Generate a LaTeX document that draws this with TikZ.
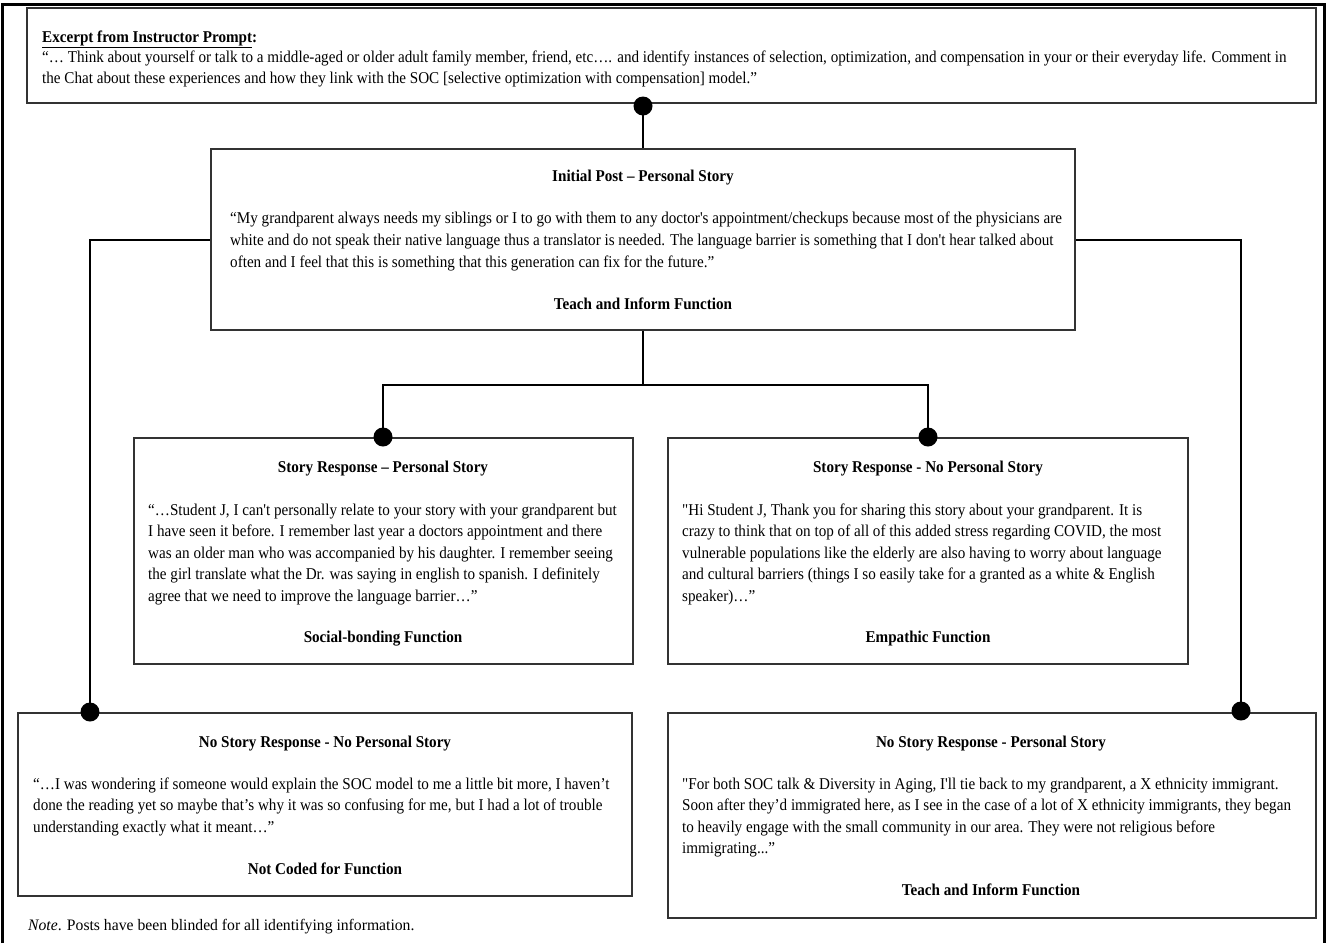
\documentclass[tikz,border=0pt]{standalone}
\usepackage{fontspec}
\setmainfont[FakeStretch=0.917]{Liberation Serif}
\newfontfamily\sqfont[FakeStretch=0.917]{Liberation Serif}
\newfontfamily\notefam[FakeStretch=0.98]{Liberation Serif}
\newcommand{\bodyfont}{\fontsize{16.5}{21}\selectfont}
\newcommand{\notefont}{\notefam\fontsize{16}{18}\selectfont}
\newcommand{\sq}{{\sqfont"}}
\newcommand{\ap}{{\sqfont'}}
\begin{document}
\begin{tikzpicture}[x=1pt,y=-1pt]
\tikzset{
 box/.style={draw=black!80, line width=2.2pt, inner sep=0pt},
 conn/.style={line width=2pt, draw=black},
 dot/.style={circle, fill=black, inner sep=0pt, minimum size=19pt},
 ttl/.style={anchor=base, inner sep=0pt, font=\bfseries\bodyfont},
 ln/.style={anchor=base west, inner sep=0pt, font=\bodyfont},
 frame/.style={line width=3pt, draw=black},
}
\useasboundingbox (0,0) rectangle (1331,943);
% outer frame
\draw[frame] (2.5,943) -- (2.5,4) -- (1324,4) -- (1324,943);

% boxes
\node[box, minimum width=1289pt, minimum height=95pt] (prompt) at (671.5,55.5) {};
\node[box, minimum width=864pt, minimum height=181pt] (init) at (643,239.5) {};
\node[box, minimum width=499pt, minimum height=226pt] (ml) at (383.5,551) {};
\node[box, minimum width=520pt, minimum height=226pt] (mr) at (928,551) {};
\node[box, minimum width=614pt, minimum height=183pt] (bl) at (325,804.5) {};
\node[box, minimum width=648pt, minimum height=205pt] (br) at (992,815.5) {};

% dots
\node[dot] (dtop) at (643,106) {};
\node[dot] (dml) at (383,437) {};
\node[dot] (dmr) at (928,437) {};
\node[dot] (dbl) at (90,712) {};
\node[dot] (dbr) at (1241,711) {};
\coordinate (jn) at (643,385);

% connectors
\draw[conn] (dtop.center) -- (init.north);
\draw[conn] (init.west) -| (dbl.center);
\draw[conn] (init.east) -| (dbr.center);
\draw[conn] (init.south) -- (jn);
\draw[conn] (jn) -| (dml.center);
\draw[conn] (jn) -| (dmr.center);

% prompt text
\node[ln] (p0) at (42,42) {\textbf{\underline{Excerpt from Instructor Prompt}:}};
\node[ln] (p1) at (42,62) {“… Think about yourself or talk to a middle-aged or older adult family member, friend, etc…. and identify instances of selection, optimization, and compensation in your or their everyday life. Comment in};
\node[ln] (p2) at (42,83) {the Chat about these experiences and how they link with the SOC [selective optimization with compensation] model.”};

% initial post
\node[ttl] (it) at (643,181) {Initial Post – Personal Story};
\node[ln] (i1) at (230,223) {“My grandparent always needs my siblings or I to go with them to any doctor\ap s appointment/checkups because most of the physicians are};
\node[ln] (i2) at (230,245) {white and do not speak their native language thus a translator is needed. The language barrier is something that I don\ap t hear talked about};
\node[ln] (i3) at (230,267) {often and I feel that this is something that this generation can fix for the future.”};
\node[ttl] (if) at (643,309) {Teach and Inform Function};

% middle left
\node[ttl] (mlt) at (383,472) {Story Response – Personal Story};
\node[ln] (ml1) at (148,515) {“…Student J, I can\ap t personally relate to your story with your grandparent but};
\node[ln] (ml2) at (148,536) {I have seen it before. I remember last year a doctors appointment and there};
\node[ln] (ml3) at (148,558) {was an older man who was accompanied by his daughter. I remember seeing};
\node[ln] (ml4) at (148,579) {the girl translate what the Dr. was saying in english to spanish. I definitely};
\node[ln] (ml5) at (148,601) {agree that we need to improve the language barrier…”};
\node[ttl] (mlf) at (383,642) {Social-bonding Function};

% middle right
\node[ttl] (mrt) at (928,472) {Story Response - No Personal Story};
\node[ln] (mr1) at (682,515) {\sq Hi Student J, Thank you for sharing this story about your grandparent. It is};
\node[ln] (mr2) at (682,536) {crazy to think that on top of all of this added stress regarding COVID, the most};
\node[ln] (mr3) at (682,558) {vulnerable populations like the elderly are also having to worry about language};
\node[ln] (mr4) at (682,579) {and cultural barriers (things I so easily take for a granted as a white \& English};
\node[ln] (mr5) at (682,601) {speaker)…”};
\node[ttl] (mrf) at (928,642) {Empathic Function};

% bottom left
\node[ttl] (blt) at (325,747) {No Story Response - No Personal Story};
\node[ln] (bl1) at (33,789) {“…I was wondering if someone would explain the SOC model to me a little bit more, I haven’t};
\node[ln] (bl2) at (33,810) {done the reading yet so maybe that’s why it was so confusing for me, but I had a lot of trouble};
\node[ln] (bl3) at (33,832) {understanding exactly what it meant…”};
\node[ttl] (blf) at (325,874) {Not Coded for Function};

% bottom right
\node[ttl] (brt) at (991,747) {No Story Response - Personal Story};
\node[ln] (br1) at (682,789) {\sq For both SOC talk \& Diversity in Aging, I\ap ll tie back to my grandparent, a X ethnicity immigrant.};
\node[ln] (br2) at (682,810) {Soon after they’d immigrated here, as I see in the case of a lot of X ethnicity immigrants, they began};
\node[ln] (br3) at (682,832) {to heavily engage with the small community in our area. They were not religious before};
\node[ln] (br4) at (682,853) {immigrating...”};
\node[ttl] (brf) at (991,895) {Teach and Inform Function};

% note
\node[anchor=base west, inner sep=0pt, font=\notefont] (note) at (28,930) {\textit{Note}. Posts have been blinded for all identifying information.};
\end{tikzpicture}
\end{document}
